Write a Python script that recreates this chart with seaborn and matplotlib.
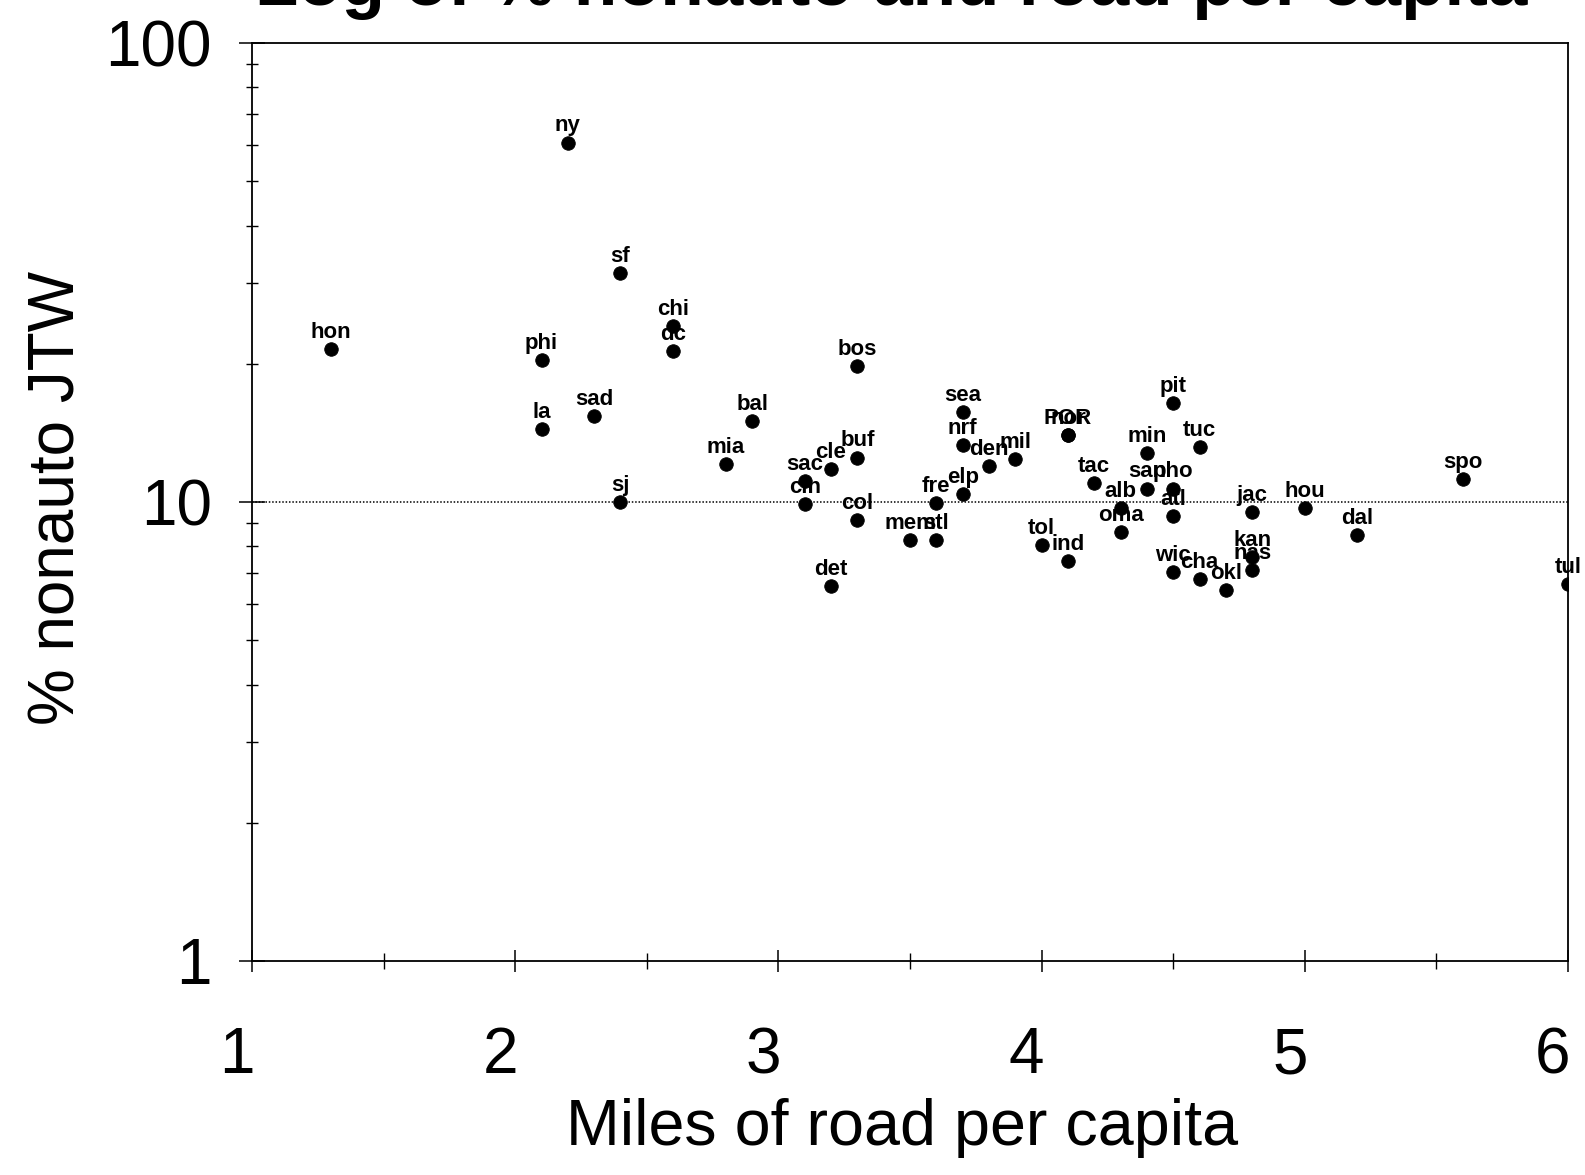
import numpy as np
import pandas as pd
import matplotlib
matplotlib.use("Agg")
import matplotlib.pyplot as plt
import matplotlib.transforms as mtransforms
from matplotlib import font_manager
from matplotlib.ticker import LogLocator, NullFormatter, FixedLocator
import seaborn as sns

# ---- data ----
cities = ['hon', 'ny', 'sf', 'chi', 'dc', 'phi', 'la', 'sad', 'sj', 'bos',
          'bal', 'mia', 'buf', 'cle', 'sac', 'cin', 'col', 'det', 'sea', 'nrf',
          'den', 'mil', 'fre', 'elp', 'mem', 'stl', 'POR', 'nor', 'tol', 'ind',
          'tac', 'alb', 'oma', 'min', 'san', 'pit', 'tuc', 'pho', 'atl', 'jac',
          'hou', 'dal', 'kan', 'nas', 'wic', 'cha', 'okl', 'spo', 'tul']
road_per_capita = [1.3, 2.2, 2.4, 2.6, 2.6, 2.1, 2.1, 2.3, 2.4, 3.3,
                   2.9, 2.8, 3.3, 3.2, 3.1, 3.1, 3.3, 3.2, 3.7, 3.7,
                   3.8, 3.9, 3.6, 3.7, 3.5, 3.6, 4.1, 4.1, 4.0, 4.1,
                   4.2, 4.3, 4.3, 4.4, 4.4, 4.5, 4.6, 4.5, 4.5, 4.8,
                   5.0, 5.2, 4.8, 4.8, 4.5, 4.6, 4.7, 5.6, 6.0]
pct_nonauto = [21.5, 60.7, 31.6, 24.2, 21.3, 20.4, 14.4, 15.4, 10.0, 19.8,
               15.0, 12.1, 12.5, 11.8, 11.1, 9.88, 9.14, 6.56, 15.7, 13.3,
               12.0, 12.4, 9.95, 10.4, 8.27, 8.25, 14.0, 14.0, 8.05, 7.43,
               11.0, 9.70, 8.61, 12.8, 10.7, 16.4, 13.2, 10.7, 9.32, 9.51,
               9.69, 8.48, 7.60, 7.10, 7.04, 6.78, 6.42, 11.2, 6.64]
reference_level = 10
x_ticks = [1, 2, 3, 4, 5, 6]
x_minor_ticks = [1.5, 2.5, 3.5, 4.5, 5.5]
y_ticks = [1, 10, 100]
y_tick_labels = ['1', '10', '100']
title = 'Log of % nonauto and road per capita'
x_label = 'Miles of road per capita'
y_label = '% nonauto JTW'

df = pd.DataFrame({'city': cities, 'road': road_per_capita, 'nonauto': pct_nonauto})

# ---- style ----
sns.set_style('white')
plt.rcParams['font.family'] = ['Liberation Sans', 'DejaVu Sans']

names = {f.name for f in font_manager.fontManager.ttflist}
if 'Liberation Sans Narrow' in names:
    label_family, label_size = ['Liberation Sans Narrow', 'Liberation Sans'], 18
else:
    label_family, label_size = ['Liberation Sans', 'DejaVu Sans'], 16

W, H = 1585, 1175
fig = plt.figure(figsize=(W / 100, H / 100), dpi=100)
ax = fig.add_axes([252 / W, (H - 961) / H, 1316 / W, 918 / H])

sns.scatterplot(data=df, x='road', y='nonauto', color='black', s=95,
                edgecolor='black', linewidth=0.6, ax=ax, legend=False, zorder=3)

ax.axhline(reference_level, color='black', linestyle=(0, (1, 1.2)), linewidth=1.1, zorder=1)

for _, r in df.iterrows():
    ax.annotate(r['city'], (r['road'], r['nonauto']), xytext=(0, 8),
                textcoords='offset points', ha='center', va='baseline',
                fontsize=label_size, fontweight='bold', family=label_family,
                color='black', zorder=4)

ax.set_yscale('log')
ax.set_xlim(1, 6)
ax.set_ylim(1, 100)
ax.set_xticks(x_ticks)
ax.set_xticklabels([str(t) for t in x_ticks])
ax.xaxis.set_minor_locator(FixedLocator(x_minor_ticks))
ax.set_yticks(y_ticks)
ax.set_yticklabels(y_tick_labels)
ax.yaxis.set_minor_locator(LogLocator(base=10, subs=range(2, 10), numticks=20))
ax.yaxis.set_minor_formatter(NullFormatter())

ax.tick_params(axis='x', which='major', bottom=True, top=False, direction='inout',
               length=16, width=1.1, labelsize=46, pad=39, color='black', labelcolor='black')
ax.tick_params(axis='x', which='minor', bottom=True, top=False, direction='inout',
               length=11, width=1.0, color='black')
ax.tick_params(axis='y', which='major', left=True, right=False, direction='inout',
               length=19, width=1.1, labelsize=46, pad=19.5, color='black', labelcolor='black')
ax.tick_params(axis='y', which='minor', left=True, right=False, direction='inout',
               length=9, width=1.0, color='black')

offset = mtransforms.ScaledTranslation(-15 / 100, 0, fig.dpi_scale_trans)
for lab in ax.get_xticklabels():
    lab.set_transform(lab.get_transform() + offset)

for side in ['left', 'right', 'top', 'bottom']:
    ax.spines[side].set_visible(True)
    ax.spines[side].set_color('black')
    ax.spines[side].set_linewidth(1.3)

ax.set_xlabel(x_label, fontsize=46.5, color='black')
ax.set_ylabel(y_label, fontsize=46, color='black')
ax.xaxis.set_label_coords(0.494, -(1098 - 961) / 918)
ax.yaxis.set_label_coords((88 - 252) / 1316, (961 - 498) / 918)

fig.text(1527 / W, 1 - 5 / H, title, ha='right', va='baseline',
         fontsize=51, fontweight='bold', color='black')

fig.savefig('out.png', dpi=100, facecolor='white')
